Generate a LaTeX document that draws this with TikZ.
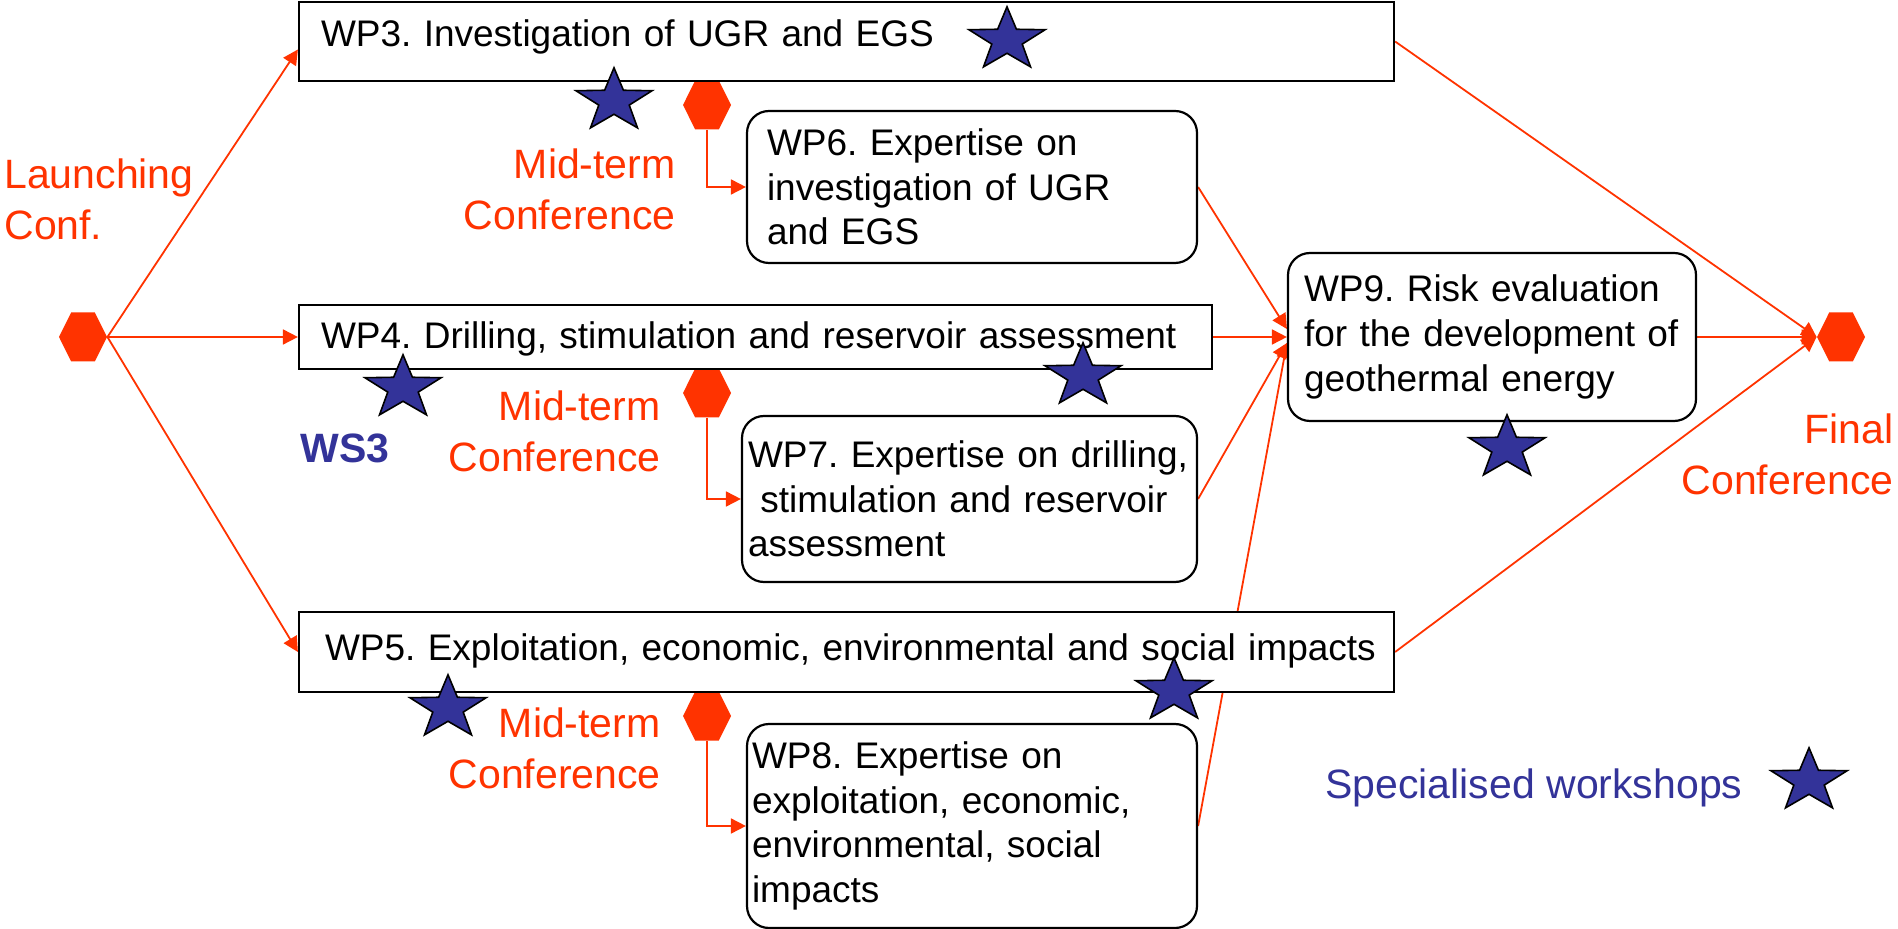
\documentclass[tikz,border=0pt]{standalone}
\usepackage{fontspec}
\setmainfont{Liberation Sans}
\usetikzlibrary{shapes.symbols,arrows.meta,backgrounds}
\definecolor{confred}{HTML}{FF3300}
\definecolor{wsblue}{HTML}{333399}
\frenchspacing
\tikzset{
  wsstar/.pic={\filldraw[fill=wsblue, draw=black, line width=.8pt, x=20pt, y=-16.6pt]
    (-90:1) \foreach \k in {1,...,9}{ -- ({-90+36*\k}:{ifthenelse(isodd(\k),0.4,1)})} -- cycle;}
}

\begin{document}
\begin{tikzpicture}[x=0.5pt, y=-0.5pt,
    conf/.style={shape=signal, signal to=west and east, signal pointer angle=127, fill=confred,
      minimum width=24pt, minimum height=24.5pt, inner sep=0pt},
    wp/.style={draw, fill=white, line width=1.1pt, align=left, font=\fontsize{18.5}{22.3}\selectfont},
    wpbox/.style={wp, inner xsep=11pt, text height=13.3pt},
    wpround/.style={wp, rounded corners=11pt},
    link/.style={confred, line width=.9pt, -{Triangle[length=7.5pt, width=7.5pt]}},
    conftext/.style={text=confred, inner sep=0pt, font=\fontsize{20.5}{25.5}\selectfont},
    wstext/.style={text=wsblue, inner sep=0pt, anchor=base west}]
  \useasboundingbox (0,0) rectangle (1898,929);

  \node[conf] (launch) at (83,337) {};
  \node[conf] (final) at (1841,337) {};
  \node[conf] (mid6) at (707,105) {};
  \node[conf] (mid7) at (707,393) {};
  \node[conf] (mid8) at (707,716) {};

  \node[wpbox, text width=525.5pt, minimum height=39.5pt, text depth=8.5pt] (wp3) at (846.5,41.5) {WP3. Investigation of UGR and EGS};
  \node[wpbox, text width=434.5pt, minimum height=32pt, text depth=2pt] (wp4) at (755.5,337) {WP4. Drilling, stimulation and reservoir assessment};
  \node[wpbox, inner xsep=13pt, text width=521.5pt, minimum height=40pt, text depth=5pt] (wp5) at (846.5,652) {\mbox{WP5. Exploitation, economic, environmental and social impacts}};

  \node[wpround, inner xsep=10pt, text width=205pt, minimum height=76pt] (wp6) at (972,187) {WP6. Expertise on\\investigation of UGR\\and EGS};
  \node[wpround, inner xsep=3pt, text width=221.5pt, minimum height=83pt] (wp7) at (969.5,499) {WP7. Expertise on drilling,\\\ stimulation and reservoir\\assessment};
  \node[wpround, inner xsep=2.5pt, text width=220pt, minimum height=102pt] (wp8) at (972,826) {WP8. Expertise on\\exploitation, economic,\\environmental, social\\impacts};
  \node[wpround, inner xsep=8pt, text width=188pt, minimum height=84pt] (wp9) at (1492,337) {WP9. Risk evaluation\\for the development of\\geothermal energy};

  \node[conftext, align=left, anchor=base west] (launchtxt) at (4,240) {Launching\\Conf.};
  \node[conftext, align=right, anchor=base east] (midtxt6) at (676,230) {Mid-term\\Conference};
  \node[conftext, align=right, anchor=base east] (midtxt7) at (661,472) {Mid-term\\Conference};
  \node[conftext, align=right, anchor=base east] (midtxt8) at (661,788) {Mid-term\\Conference};
  \node[conftext, align=right, anchor=base east] (finaltxt) at (1894,495) {Final\\Conference};
  \node[wstext, font=\fontsize{20.5}{25}\selectfont\bfseries] (ws3) at (300,463) {WS3};
  \node[wstext, font=\fontsize{20.5}{25}\selectfont] (legend) at (1325,798) {Specialised workshops};

  \begin{scope}[on background layer]
    \draw[link] (launch.east) -- ([yshift=-4pt]wp3.west);
    \draw[link] (launch.east) -- (wp4.west);
    \draw[link] (launch.east) -- (wp5.west);
    \draw[link] (mid6.south) |- (wp6.west);
    \draw[link] (mid7.south) |- (wp7.west);
    \draw[link] (mid8.south) |- (wp8.west);
    \draw[link] (wp6.east) -- ([yshift=4pt]wp9.west);
    \draw[link] (wp4.east) -- (wp4.east -| wp9.west);
    \draw[link] (wp7.east) -- ([yshift=-3pt]wp9.west);
    \draw[link] (wp8.east) -- ([yshift=-3pt]wp9.west);
    \draw[link] (wp3.east) -- (final.west);
    \draw[link] (wp9.east) -- (final.west);
    \draw[link] (wp5.east) -- (final.west);
  \end{scope}

  \pic at (1007,40) {wsstar};
  \pic at (614,101) {wsstar};
  \pic at (1083,376) {wsstar};
  \pic at (403,388) {wsstar};
  \pic at (1507,448) {wsstar};
  \pic at (448,708) {wsstar};
  \pic at (1174,691) {wsstar};
  \pic at (1809,781) {wsstar};
\end{tikzpicture}
\end{document}
